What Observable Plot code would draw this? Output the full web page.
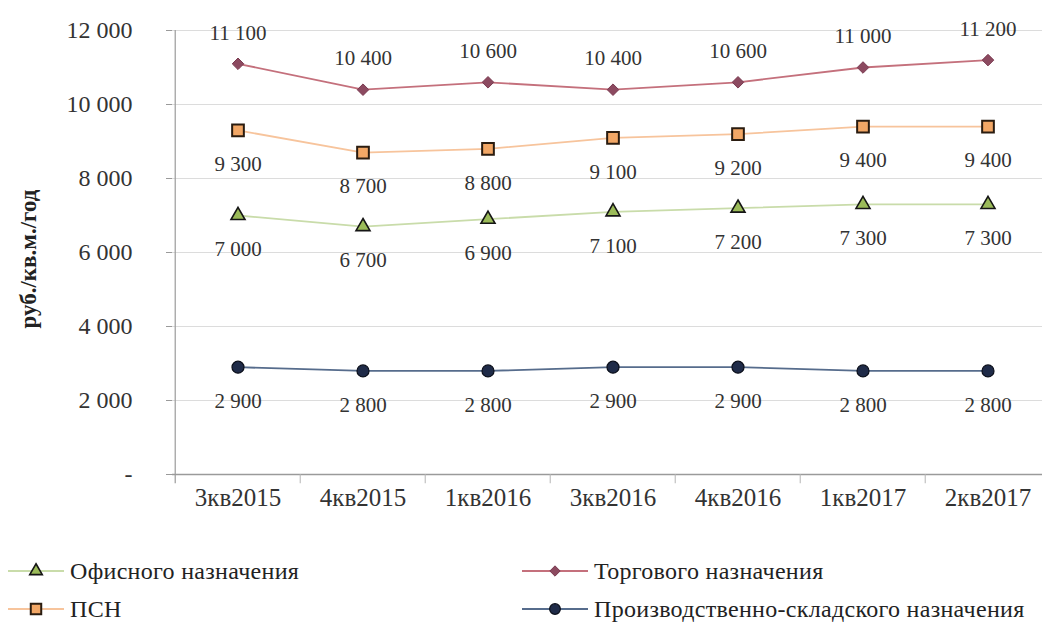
<!DOCTYPE html>
<html>
<head>
<meta charset="utf-8">
<script src="https://cdn.jsdelivr.net/npm/d3@7"></script>
<script src="https://cdn.jsdelivr.net/npm/@observablehq/plot@0.6"></script>
<style>
  body { margin: 0; background: #fff; font-family: 'Liberation Serif', 'DejaVu Serif', serif; }
  #wrap { position: relative; width: 1042px; height: 628px; overflow: hidden; }
  #legend { position: absolute; left: 0; top: 530px; width: 1042px; height: 98px; }
  .item { position: absolute; display: flex; align-items: center; font-size: 24px; letter-spacing: 0.3px; color: #222; white-space: nowrap; font-family: 'Liberation Serif', 'DejaVu Serif', serif; }
  .item svg { margin-right: 6px; }
  svg text { font-family: 'Liberation Serif', 'DejaVu Serif', serif; }
</style>
</head>
<body>
<div id="wrap">
  <div id="chart"></div>
  <div id="legend"></div>
</div>
<script>
const categories = ["3кв2015", "4кв2015", "1кв2016", "3кв2016", "4кв2016", "1кв2017", "2кв2017"];
const office = [7000, 6700, 6900, 7100, 7200, 7300, 7300];
const retail = [11100, 10400, 10600, 10400, 10600, 11000, 11200];
const psn = [9300, 8700, 8800, 9100, 9200, 9400, 9400];
const industrial = [2900, 2800, 2800, 2900, 2900, 2800, 2800];
const yTicks = [0, 2000, 4000, 6000, 8000, 10000, 12000];
const seriesNames = ["Офисного назначения", "Торгового назначения", "ПСН", "Производственно-складского назначения"];

const fmt = d => d === 0 ? "-" : d3.format(",")(d).replace(/,/g, " ");

const xRange = [172.5, 1051.5];
const bw = (xRange[1] - xRange[0]) / categories.length;

const styles = {
  office: {line: "#c9dcaa", fill: "#9bbb59", stroke: "#151515", symbol: "triangle", r: 5.2, sw: 1.6},
  retail: {line: "#c4707c", fill: "#8c4a60", stroke: "#7a3a50", symbol: "diamond2", r: 5.2, sw: 1},
  psn: {line: "#f7c49c", fill: "#f2a766", stroke: "#2a1c10", symbol: "square", r: 6.6, sw: 2},
  industrial: {line: "#566c8c", fill: "#1f2b48", stroke: "#0b0f1a", symbol: "circle", r: 6, sw: 1.2}
};

const mk = (vals) => categories.map((c, i) => ({c, v: vals[i]}));
const data = {office: mk(office), retail: mk(retail), psn: mk(psn), industrial: mk(industrial)};

const marks = [
  Plot.ruleY(yTicks.slice(1), {stroke: "#dcdcdc", strokeWidth: 1.2}),
  Plot.ruleY([0], {stroke: "#9a9a9a", strokeWidth: 1.5}),
  Plot.ruleX([categories[0]], {dx: -bw / 2, y1: -250, y2: 12000, stroke: "#9a9a9a", strokeWidth: 1.2}),
  Plot.ruleX(categories.slice(1), {dx: -bw / 2, y1: -250, y2: 0, stroke: "#b5b5b5", strokeWidth: 1}),
  Plot.axisY({ticks: yTicks, tickFormat: fmt, tickSize: 6, tickPadding: 34, fontSize: 24, stroke: "#9a9a9a", fill: "#333", label: null}),
  Plot.axisX({tickSize: 0, tickPadding: 14, fontSize: 25, fill: "#333", label: null})
];

for (const key of ["industrial", "office", "psn", "retail"]) {
  const s = styles[key];
  marks.push(Plot.line(data[key], {x: "c", y: "v", stroke: s.line, strokeWidth: 1.8}));
  marks.push(Plot.dot(data[key], {x: "c", y: "v", symbol: s.symbol, r: s.r, fill: s.fill, stroke: s.stroke, strokeWidth: s.sw}));
  marks.push(Plot.text(data[key], {x: "c", y: "v", text: d => fmt(d.v), dy: key === "retail" ? -31 : 34, fontSize: 21, fill: "#333"}));
}

const chart = Plot.plot({
  width: 1042,
  height: 530,
  marginTop: 30,
  marginBottom: 56,
  marginLeft: 172,
  marginRight: 0,
  style: {fontFamily: "'Liberation Serif', 'DejaVu Serif', serif", background: "transparent", overflow: "visible"},
  x: {type: "band", domain: categories, range: xRange, padding: 0, label: null},
  y: {domain: [0, 12000], label: null},
  marks
});
document.getElementById("chart").appendChild(chart);

// y-axis title
const svg = d3.select(chart);
svg.append("text")
  .attr("transform", "translate(28,259) rotate(-90)")
  .attr("text-anchor", "middle")
  .attr("dominant-baseline", "central")
  .attr("font-weight", "bold")
  .attr("font-size", 23)
  .attr("fill", "#222")
  .text("руб./кв.м./год");

// legend
const legendItems = [
  {key: "office", left: 8, top: 41},
  {key: "retail", left: 522, top: 41},
  {key: "psn", left: 8, top: 79},
  {key: "industrial", left: 522, top: 79}
];
const nameByKey = {office: seriesNames[0], retail: seriesNames[1], psn: seriesNames[2], industrial: seriesNames[3]};
const symByName = {triangle: d3.symbolTriangle, diamond2: d3.symbolDiamond2, square: d3.symbolSquare, circle: d3.symbolCircle};
const legend = d3.select("#legend");
for (const it of legendItems) {
  const s = styles[it.key];
  const div = legend.append("div").attr("class", "item").style("left", it.left + "px").style("top", (it.top - 14) + "px").style("height", "28px");
  const w = it.key === "office" || it.key === "psn" ? 56 : 66;
  const sv = div.append("svg").attr("width", w).attr("height", 28);
  sv.append("line").attr("x1", 0).attr("x2", w).attr("y1", 14).attr("y2", 14).attr("stroke", s.line).attr("stroke-width", 1.8);
  sv.append("path").attr("transform", `translate(${w / 2},14)`)
    .attr("d", d3.symbol(symByName[s.symbol], Math.PI * s.r * s.r * 0.8)())
    .attr("fill", s.fill).attr("stroke", s.stroke).attr("stroke-width", s.sw);
  div.append("span").text(nameByKey[it.key]);
}
</script>
</body>
</html>
